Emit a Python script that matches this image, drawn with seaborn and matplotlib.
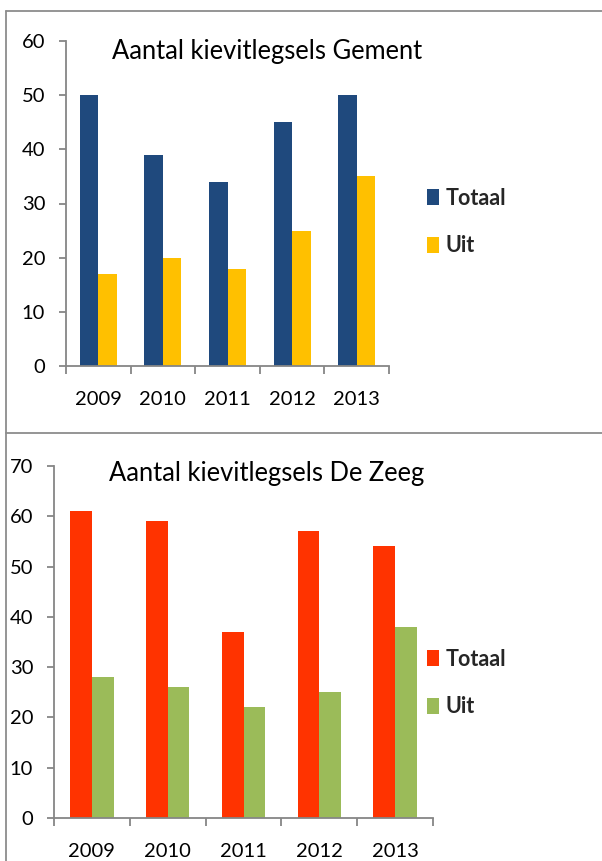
import matplotlib
matplotlib.use("Agg")
import matplotlib.pyplot as plt
from matplotlib.lines import Line2D
import seaborn as sns
import pandas as pd

years = ["2009", "2010", "2011", "2012", "2013"]
series = ["Totaal", "Uit"]

gement_totaal = [50, 39, 34, 45, 50]
gement_uit = [17, 20, 18, 25, 35]

zeeg_totaal = [61, 59, 37, 57, 54]
zeeg_uit = [28, 26, 22, 25, 38]

title_gement = "Aantal kievitlegsels Gement"
title_zeeg = "Aantal kievitlegsels De Zeeg"

sns.set_theme(style="white")
plt.rcParams['font.family'] = ['Lato', 'DejaVu Sans']

W, H = 602, 861
fig = plt.figure(figsize=(W / 100, H / 100), dpi=100)
fig.patch.set_facecolor("white")

AX_COL = "#868686"
TXT = "#000000"


def make_df(tot, uit):
    return pd.DataFrame({
        "Jaar": years * 2,
        "Serie": [series[0]] * len(years) + [series[1]] * len(years),
        "Aantal": list(tot) + list(uit),
    })


def panel(rect, tot, uit, colors, ymax, title, title_xy, legend_xy):
    ax = fig.add_axes(rect)
    df = make_df(tot, uit)
    sns.barplot(data=df, x="Jaar", y="Aantal", hue="Serie", palette=colors,
                width=0.57, gap=0, saturation=1, ax=ax, errorbar=None,
                linewidth=0)
    ax.set_ylim(0, ymax)
    ax.set_xlim(-0.5, len(years) - 0.5)
    ax.set_yticks(range(0, ymax + 1, 10))
    ax.set_xlabel("")
    ax.set_ylabel("")
    for s in ["top", "right"]:
        ax.spines[s].set_visible(False)
    for s in ["left", "bottom"]:
        ax.spines[s].set_color(AX_COL)
        ax.spines[s].set_linewidth(1.3)
    ax.set_xticks([i - 0.5 for i in range(len(years) + 1)], minor=True)
    ax.tick_params(axis="x", which="minor", length=6, width=1.3, color=AX_COL, direction="out", bottom=True)
    ax.tick_params(axis="x", which="major", length=0, pad=18, labelsize=14.5, labelcolor=TXT)
    ax.tick_params(axis="y", which="major", length=5, width=1.3, color=AX_COL, direction="out", left=True,
                   pad=10, labelsize=14.5, labelcolor=TXT)
    ax.grid(False)
    handles, labels = ax.get_legend_handles_labels()
    ax.legend(handles, labels, loc="center left", bbox_to_anchor=legend_xy,
              bbox_transform=fig.transFigure, frameon=False,
              prop={"weight": "bold", "size": 15.5}, handlelength=0.55,
              handleheight=0.75, handletextpad=0.3, labelspacing=1.25,
              borderpad=0, borderaxespad=0)
    fig.text(title_xy[0], title_xy[1], title, ha="center", va="center",
             fontsize=18.4, color=TXT)
    return ax


panel([66 / W, 1 - 366 / H, (389 - 66) / W, (366 - 41) / H],
      gement_totaal, gement_uit, ["#1F497D", "#FFC000"], 60, title_gement,
      (267 / W, 1 - 52 / H), (427 / W, 1 - 222 / H))

panel([54 / W, 1 - 818 / H, (433 - 54) / W, (818 - 466) / H],
      zeeg_totaal, zeeg_uit, ["#FF3300", "#9BBB59"], 70, title_zeeg,
      (267 / W, 1 - 474 / H), (427 / W, 1 - 683 / H))

# panel borders
bc = "#8C8C8C"
fig.add_artist(Line2D([6 / W, 6 / W], [0, 1 - 11 / H], color=bc, lw=1.3, transform=fig.transFigure))
fig.add_artist(Line2D([6 / W, 1], [1 - 11 / H, 1 - 11 / H], color=bc, lw=1.3, transform=fig.transFigure))
fig.add_artist(Line2D([6 / W, 1], [1 - 433 / H, 1 - 433 / H], color=bc, lw=1.3, transform=fig.transFigure))

fig.savefig("out.png", dpi=100, facecolor="white")
